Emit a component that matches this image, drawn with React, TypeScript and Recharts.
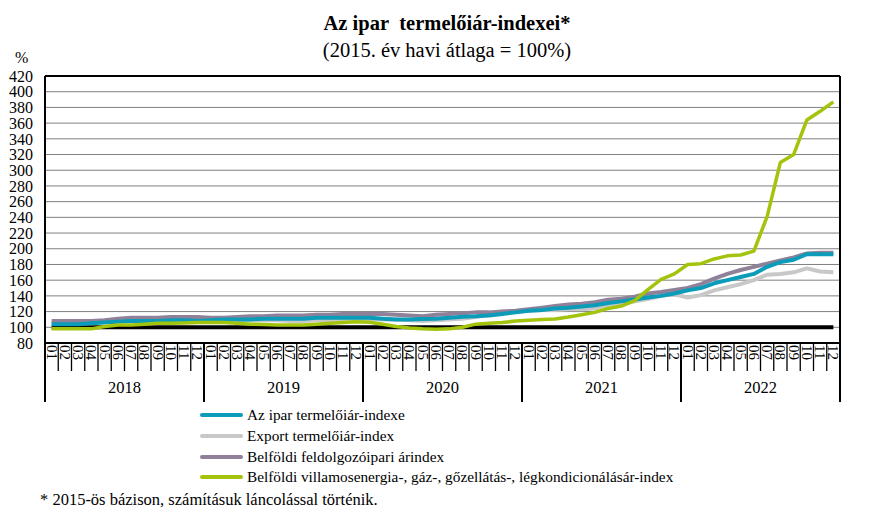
import React from 'react';
import { LineChart, Line, XAxis, YAxis, CartesianGrid, ReferenceLine } from 'recharts';

const FONT = 'Liberation Serif';

const MONTH_LABELS = ['01', '02', '03', '04', '05', '06', '07', '08', '09', '10', '11', '12'];
const YEARS = ['2018', '2019', '2020', '2021', '2022'];
const Y_TICKS = [80, 100, 120, 140, 160, 180, 200, 220, 240, 260, 280, 300, 320, 340, 360, 380, 400, 420];

// Az ipar termelőiár-indexe
const IPAR = [
  104, 104, 104, 105, 106, 107, 108, 108, 108, 109, 109, 108,
  109, 110, 110, 110, 111, 111, 111, 111, 112, 112, 112, 112,
  112, 111, 110, 110, 110.5, 111, 112, 113.5, 114, 115, 117, 119,
  121, 122, 124, 125, 126.5, 128, 131, 133, 135.5, 138, 140, 143,
  147, 150, 156, 160, 164, 168, 177, 183, 186, 193, 193, 193,
];
// Export termelőiár-index
const EXPORT = [
  105, 105, 105, 106, 107, 109, 109, 109, 109, 110, 110, 109,
  109, 108, 109, 109, 109, 109, 108, 108, 109, 109, 109, 109,
  110, 110, 110, 109, 108, 109, 110, 111, 113, 116, 118, 120,
  121, 122, 122, 123, 123, 124, 128, 130, 133, 136, 140, 142,
  138, 141, 147, 151, 155, 160, 167, 168, 170, 175, 171, 170,
];
// Belföldi feldolgozóipari árindex
const FELDOLG = [
  108, 108, 108, 108, 109, 111, 112, 112, 112, 113, 113, 113,
  112, 112, 113, 114, 114, 115, 115, 115, 116, 116, 117, 117,
  117, 117, 116, 115, 114, 116, 117, 118, 119, 119, 120, 121,
  123, 125, 127, 129, 130, 132, 135, 136.5, 139, 143, 145, 147.5,
  150, 155, 162, 168, 173, 177, 181, 185, 189, 194, 195, 195,
];
// Belföldi villamosenergia-, gáz-, gőzellátás-, légkondicionálásár-index
const VILLAMOS = [
  98, 98, 98, 98, 101, 103, 103, 104, 105, 105, 105.5, 106,
  106, 106, 105, 104, 103.5, 103, 103, 103, 104, 105, 106, 107,
  106.5, 104, 101, 99, 98, 97.5, 98, 100, 104, 105, 106, 108,
  109, 110, 110.5, 113, 116, 119, 124, 127, 134, 148, 161, 168,
  180, 181, 187, 191, 192, 197, 241, 310, 320, 364, 375, 387,
];

const SERIES = [
  { key: 'export', name: 'Export termelőiár-index', color: '#c8c8c8', values: EXPORT },
  { key: 'feldolg', name: 'Belföldi feldolgozóipari árindex', color: '#8e8199', values: FELDOLG },
  { key: 'ipar', name: 'Az ipar termelőiár-indexe', color: '#0a9cb8', values: IPAR },
  { key: 'villamos', name: 'Belföldi villamosenergia-, gáz-, gőzellátás-, légkondicionálásár-index', color: '#a3c40c', values: VILLAMOS },
];
const LEGEND_ORDER = ['ipar', 'export', 'feldolg', 'villamos'];

const MONTHS = YEARS.flatMap((y) => MONTH_LABELS.map((m) => ({ year: y, month: m })));
const IDX = MONTHS.map((_, i) => i);

const PLOT_LEFT = 45;
const PLOT_RIGHT = 840;
const BW = (PLOT_RIGHT - PLOT_LEFT) / MONTHS.length;

function MonthTick(props: any) {
  const { x, y, payload } = props;
  const i = payload.value as number;
  const y0 = y;
  const yearStart = i % 12 === 0;
  return (
    <g>
      <line
        x1={x - BW / 2}
        x2={x - BW / 2}
        y1={y0}
        y2={y0 + (yearStart ? 59 : 28)}
        stroke="#000"
        strokeWidth={yearStart ? 2 : 1.3}
      />
      {i === MONTHS.length - 1 && (
        <line x1={x + BW / 2} x2={x + BW / 2} y1={y0} y2={y0 + 59} stroke="#000" strokeWidth={2} />
      )}
      <text
        transform={`translate(${x},${y0 + 2}) rotate(90)`}
        x={0}
        y={0}
        dy="0.34em"
        textAnchor="start"
        fontSize={15}
        fontFamily={FONT}
        fill="#000"
      >
        {MONTHS[i].month}
      </text>
      {i % 12 === 5 && (
        <text x={x + BW / 2} y={y0 + 50} textAnchor="middle" fontSize={16.5} fontFamily={FONT} fill="#000">
          {MONTHS[i].year}
        </text>
      )}
    </g>
  );
}

export default function App() {
  const data = MONTHS.map((m, i) => {
    const row: any = { idx: i, label: m.month };
    SERIES.forEach((s) => {
      row[s.key] = s.values[i];
    });
    return row;
  });

  return (
    <div style={{ position: 'absolute', left: 0, top: 0, width: 869, height: 513, background: '#fff', fontFamily: FONT, color: '#000' }}>
      <div style={{ position: 'absolute', left: 197, top: 12, width: 500, textAlign: 'center', fontSize: 20.5, lineHeight: '22px', fontWeight: 'bold', zIndex: 2, fontFamily: FONT }}>
        Az ipar&nbsp; termelőiár-indexei*
      </div>
      <div style={{ position: 'absolute', left: 197, top: 38, width: 500, textAlign: 'center', fontSize: 20.5, lineHeight: '24px', zIndex: 2, fontFamily: FONT }}>
        (2015. év havi átlaga = 100%)
      </div>
      <div style={{ position: 'absolute', left: 15, top: 49, fontSize: 16, lineHeight: '18px', zIndex: 2, fontFamily: FONT }}>%</div>

      <LineChart width={869} height={513} data={data} margin={{ top: 76, right: 869 - PLOT_RIGHT, left: 0, bottom: 110 }}>
        <CartesianGrid vertical={false} stroke="#808080" strokeWidth={1} />
        <XAxis
          type="number"
          dataKey="idx"
          domain={[-0.5, MONTHS.length - 0.5]}
          ticks={IDX}
          interval={0}
          tick={<MonthTick />}
          tickLine={false}
          tickSize={0}
          tickMargin={0}
          axisLine={{ stroke: '#000', strokeWidth: 2 }}
          height={60}
        />
        <YAxis
          type="number"
          domain={[80, 420]}
          ticks={Y_TICKS}
          interval={0}
          width={PLOT_LEFT}
          tickLine={false}
          tickSize={0}
          tickMargin={12}
          axisLine={{ stroke: '#000', strokeWidth: 2 }}
          tick={{ fontSize: 16, fill: '#000', fontFamily: FONT }}
        />
        <ReferenceLine y={420} stroke="#000" strokeWidth={2} />
        <ReferenceLine x={MONTHS.length - 0.5} stroke="#000" strokeWidth={2} />
        <ReferenceLine segment={[{ x: 0, y: 100 }, { x: MONTHS.length - 1, y: 100 }]} stroke="#000" strokeWidth={4} />
        {SERIES.map((s) => (
          <Line
            key={s.key}
            type="linear"
            dataKey={s.key}
            name={s.name}
            stroke={s.color}
            strokeWidth={s.key === 'villamos' ? 3.5 : 4}
            strokeLinejoin="round"
            dot={false}
            activeDot={false}
            isAnimationActive={false}
          />
        ))}
      </LineChart>

      <div style={{ position: 'absolute', left: 200, top: 405, zIndex: 2, fontFamily: FONT }}>
        {LEGEND_ORDER.map((k) => {
          const s = SERIES.find((x) => x.key === k)!;
          return (
            <div key={k} style={{ display: 'flex', alignItems: 'center', height: 20.7, fontSize: 15.3 }}>
              <span style={{ display: 'inline-block', width: 43, height: 4, borderRadius: 2, background: s.color, marginRight: 4 }} />
              <span>{s.name}</span>
            </div>
          );
        })}
      </div>
      <div style={{ position: 'absolute', left: 40, top: 490, fontSize: 16.5, lineHeight: '19px', zIndex: 2, fontFamily: FONT }}>
        * 2015-ös bázison, számításuk láncolással történik.
      </div>
    </div>
  );
}
